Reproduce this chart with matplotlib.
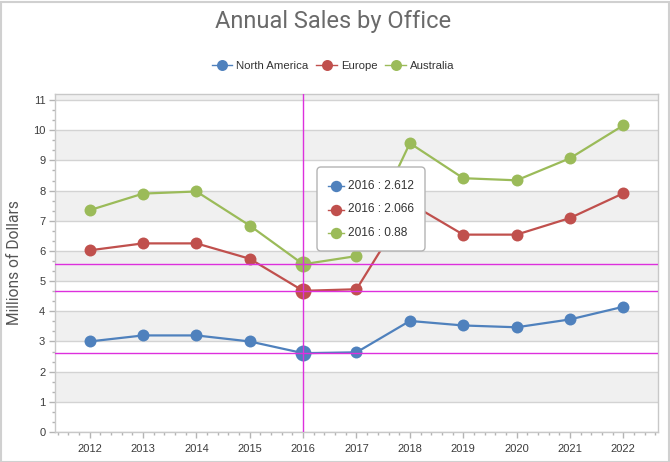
import numpy as np
import matplotlib
matplotlib.use("Agg")
import matplotlib.pyplot as plt
from matplotlib.ticker import MultipleLocator, FixedLocator
from matplotlib.patches import FancyBboxPatch, Rectangle
from matplotlib.lines import Line2D
from matplotlib.transforms import IdentityTransform

# ---------------- data ----------------
years = [2012, 2013, 2014, 2015, 2016, 2017, 2018, 2019, 2020, 2021, 2022]
series_names = ["North America", "Europe", "Australia"]
north_america = [3.00, 3.20, 3.20, 3.00, 2.612, 2.64, 3.68, 3.53, 3.47, 3.73, 4.15]
europe = [3.02, 3.05, 3.05, 2.74, 2.066, 2.09, 3.90, 3.01, 3.07, 3.36, 3.76]
australia = [1.33, 1.65, 1.72, 1.10, 0.88, 1.10, 1.99, 1.87, 1.80, 1.98, 2.25]
colors = ["#4F81BD", "#C0504D", "#9BBB59"]
highlight_year = 2016
title = "Annual Sales by Office"
y_title = "Millions of Dollars"

W, H = 670, 462
fig = plt.figure(figsize=(W / 100, H / 100), dpi=100)
fig.patch.set_facecolor("white")

TXT = "Liberation Sans"
HEAD = "Roboto"

def px(x, y):
    return x, H - y

ax = fig.add_axes([55 / W, 1 - 432 / H, (658 - 55) / W, (432 - 94) / H])
ax.set_xlim(2011.35, 2022.65)
ax.set_ylim(0, 11.2)

# alternating bands
for i in range(0, 12):
    if i % 2 == 1:
        ax.axhspan(i, i + 1, color="#F0F0F0", lw=0, zorder=0)
ax.yaxis.set_major_locator(MultipleLocator(1))
ax.yaxis.set_minor_locator(MultipleLocator(1 / 3))
ax.xaxis.set_major_locator(FixedLocator(years))
ax.xaxis.set_minor_locator(MultipleLocator(0.2))
ax.yaxis.grid(True, which="major", color="#D3D3D3", lw=1, zorder=1)
ax.set_axisbelow(True)

for s in ax.spines.values():
    s.set_color("#C8C8C8")
    s.set_linewidth(1)

ax.tick_params(axis="both", which="major", length=4, width=1, color="#B4B4B4",
               labelsize=8, labelcolor="#3C3C3C", pad=3)
ax.tick_params(axis="both", which="minor", length=2.2, width=1, color="#B4B4B4")
ax.tick_params(axis="x", which="major", pad=5)
for lab in ax.get_xticklabels() + ax.get_yticklabels():
    lab.set_fontfamily(TXT)

values = [north_america, europe, australia]
stacked = np.cumsum(np.array(values), axis=0)
hi = years.index(highlight_year)

handles = []
for k, (name, col) in enumerate(zip(series_names, colors)):
    (ln,) = ax.plot(years, stacked[k], color=col, lw=1.6, marker="o",
                    markersize=8.6, markeredgewidth=0, zorder=3 + k * 0.1,
                    label=name, solid_joinstyle="round")
    ax.plot([years[hi]], [stacked[k][hi]], marker="o", color=col,
            markersize=11.5, markeredgewidth=0, zorder=3.5 + k * 0.1)
    handles.append(ln)

# crosshair
mag = "#DD30DD"
ax.axvline(years[hi], color=mag, lw=1, zorder=6)
for k in range(3):
    ax.axhline(stacked[k][hi], color=mag, lw=1, zorder=6)

# legend
leg = fig.legend(handles=handles, labels=series_names, loc="center",
                 bbox_to_anchor=(333 / W, 1 - 66 / H), ncol=3, frameon=False,
                 prop={"family": TXT, "size": 8.2}, handlelength=1.8,
                 handletextpad=0.35, columnspacing=0.7, markerscale=0.92)
for t in leg.get_texts():
    t.set_color("#333333")
for h in leg.legend_handles:
    h.set_linewidth(1)

# title and axis title
fig.text(333 / W, 1 - 28 / H, title, ha="center", va="baseline",
         fontsize=17, color="#6A6A6A", family=HEAD)
fig.text(15 / W, 1 - 263 / H, y_title, ha="center", va="center",
         rotation=90, fontsize=11.2, color="#555555", family=HEAD)

# tooltip
tx0, ty0, tx1, ty1 = 317, 167, 425, 251
box = FancyBboxPatch(px(tx0, ty1), tx1 - tx0, ty1 - ty0,
                     boxstyle="round,pad=0,rounding_size=4",
                     transform=IdentityTransform(), facecolor="white",
                     edgecolor="#B4B4B4", lw=1, zorder=20)
fig.add_artist(box)
rows_y = [186, 209.5, 232.5]
for k in range(3):
    yy = H - rows_y[k]
    mk = Line2D([328, 336, 344], [yy, yy, yy], color=colors[k], lw=1,
                marker="o", markersize=8.2, markeredgewidth=0, markevery=[1],
                transform=IdentityTransform(), zorder=21)
    fig.add_artist(mk)
    fig.text(348, yy, f"{years[hi]} : {values[k][hi]:g}", ha="left",
             va="center", fontsize=8.6, color="#333333", family=TXT,
             transform=IdentityTransform(), zorder=21)

# outer border
fig.add_artist(Rectangle((0.5, 0.5), W - 2, H - 2, transform=IdentityTransform(),
                         fill=False, edgecolor="#D0D0D0", lw=1.5, zorder=30))

fig.savefig("out.png", dpi=100)
